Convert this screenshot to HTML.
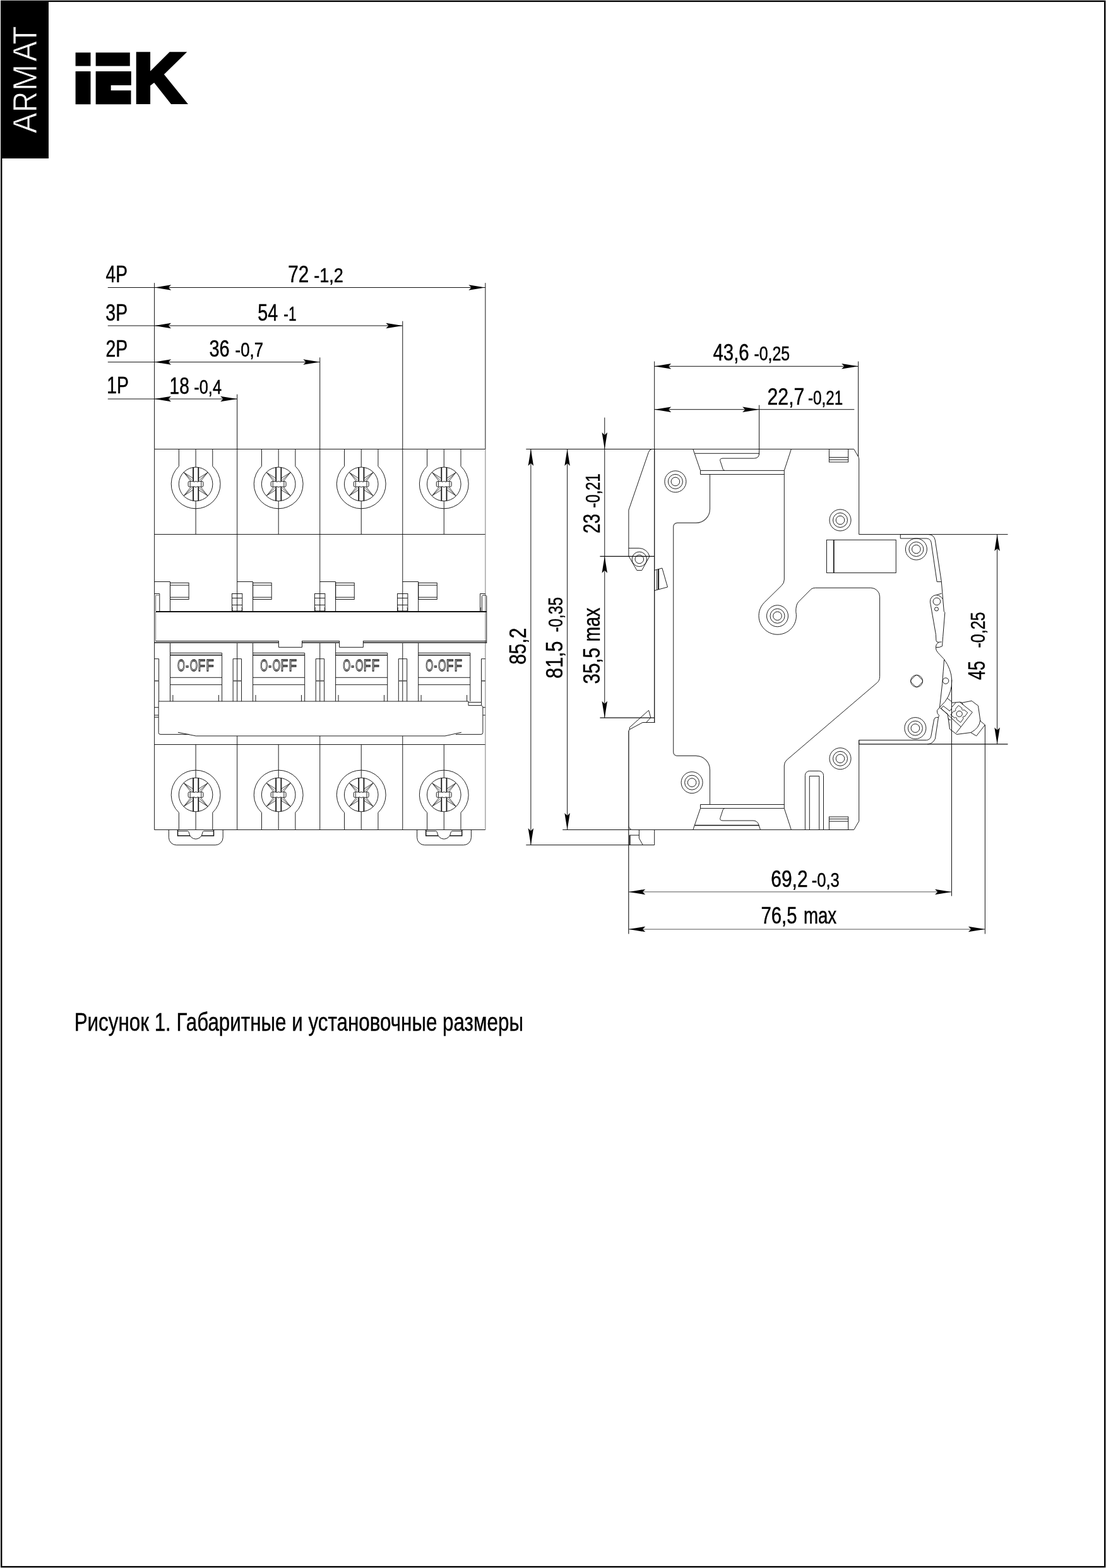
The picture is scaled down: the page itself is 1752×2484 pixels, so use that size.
<!DOCTYPE html>
<html lang="ru">
<head>
<meta charset="utf-8">
<title>Рисунок 1</title>
<style>
html,body{margin:0;padding:0;background:#fff;}
body{width:1752px;height:2484px;overflow:hidden;}
svg{display:block;will-change:transform;}
svg text{font-family:"Liberation Sans",sans-serif;}
svg .ar{fill:#000;stroke:none;}
</style>
</head>
<body>
<svg width="1752" height="2484" viewBox="0 0 1752 2484">
<g fill="none" stroke="#111" stroke-width="0.95">
<rect x="2.2" y="1.9" width="1748" height="2480.2" fill="#fff" stroke="#000" stroke-width="2.4"/>
<rect x="1" y="1" width="76" height="250" fill="#000" stroke="none"/>
<text transform="translate(58,210.8) rotate(-90)" font-size="52.91" fill="#fff" stroke="#000" stroke-width="0.8"><tspan x="-0.37" textLength="32.78" lengthAdjust="spacingAndGlyphs">A</tspan><tspan x="33.01" textLength="32.94" lengthAdjust="spacingAndGlyphs">R</tspan><tspan x="66.9" textLength="42.07" lengthAdjust="spacingAndGlyphs">M</tspan><tspan x="113.43" textLength="32.28" lengthAdjust="spacingAndGlyphs">A</tspan><tspan x="140.65" textLength="28.79" lengthAdjust="spacingAndGlyphs">T</tspan></text>
<text font-weight="bold" fill="#000" stroke="#000" stroke-linejoin="miter" stroke-miterlimit="10"><tspan x="118.08" y="159.65" font-size="104.3" stroke-width="10.5" textLength="27.14" lengthAdjust="spacingAndGlyphs">I</tspan><tspan x="150.34" y="159.65" font-size="104.3" stroke-width="10.5" textLength="56.35" lengthAdjust="spacingAndGlyphs">E</tspan><tspan x="211.36" y="161.9" font-size="110.6" stroke-width="6" textLength="81.45" lengthAdjust="spacingAndGlyphs">K</tspan></text>
<rect x="172" y="113" width="35.8" height="22.1" fill="#000" stroke="none"/>
<rect x="170" y="134" width="5.7" height="10" fill="#000" stroke="none"/>
<rect x="117" y="104.6" width="94.5" height="8.4" fill="#fff" stroke="none"/>
<line x1="170.8" y1="455.5" x2="768.88" y2="455.5" stroke-width="1"/>
<polygon class="ar" points="0,0 26.5,-4.25 22.2,0 26.5,4.25" transform="translate(244.6,455.5) rotate(0)"/>
<polygon class="ar" points="0,0 26.5,-4.25 22.2,0 26.5,4.25" transform="translate(768.88,455.5) rotate(180)"/>
<text transform="translate(167.59,446.85) scale(0.7558,1)" font-size="37.21" stroke="#000" stroke-width="0.5" fill="#000">4P</text>
<line x1="768.88" y1="448.2" x2="768.88" y2="711.5" stroke-width="1"/>
<line x1="170.8" y1="516" x2="637.81" y2="516" stroke-width="1"/>
<polygon class="ar" points="0,0 26.5,-4.25 22.2,0 26.5,4.25" transform="translate(244.6,516) rotate(0)"/>
<polygon class="ar" points="0,0 26.5,-4.25 22.2,0 26.5,4.25" transform="translate(637.81,516) rotate(180)"/>
<text transform="translate(167.33,507.55) scale(0.7641,1)" font-size="37.21" stroke="#000" stroke-width="0.5" fill="#000">3P</text>
<line x1="637.81" y1="508.7" x2="637.81" y2="711.5" stroke-width="1"/>
<line x1="170.8" y1="573.6" x2="506.74" y2="573.6" stroke-width="1"/>
<polygon class="ar" points="0,0 26.5,-4.25 22.2,0 26.5,4.25" transform="translate(244.6,573.6) rotate(0)"/>
<polygon class="ar" points="0,0 26.5,-4.25 22.2,0 26.5,4.25" transform="translate(506.74,573.6) rotate(180)"/>
<text transform="translate(167.43,564.75) scale(0.7641,1)" font-size="37.21" stroke="#000" stroke-width="0.5" fill="#000">2P</text>
<line x1="506.74" y1="566.3" x2="506.74" y2="711.5" stroke-width="1"/>
<line x1="170.8" y1="632" x2="375.67" y2="632" stroke-width="1"/>
<polygon class="ar" points="0,0 26.5,-4.25 22.2,0 26.5,4.25" transform="translate(244.6,632) rotate(0)"/>
<polygon class="ar" points="0,0 26.5,-4.25 22.2,0 26.5,4.25" transform="translate(375.67,632) rotate(180)"/>
<text transform="translate(169.26,623.25) scale(0.7632,1)" font-size="37.21" stroke="#000" stroke-width="0.5" fill="#000">1P</text>
<line x1="375.67" y1="624.7" x2="375.67" y2="711.5" stroke-width="1"/>
<line x1="244.6" y1="448.2" x2="244.6" y2="711.5" stroke-width="1"/>
<text y="447.35" fill="#000" stroke="#000" stroke-width="0.5"><tspan x="456.2" font-size="37.21" textLength="32.94" lengthAdjust="spacingAndGlyphs">72</tspan> <tspan x="497.15" font-size="31.25" textLength="46.63" lengthAdjust="spacingAndGlyphs">-1,2</tspan></text>
<text y="508.15" fill="#000" stroke="#000" stroke-width="0.5"><tspan x="408.32" font-size="37.21" textLength="32.02" lengthAdjust="spacingAndGlyphs">54</tspan> <tspan x="449.36" font-size="31.25" textLength="20.16" lengthAdjust="spacingAndGlyphs">-1</tspan></text>
<text y="565.35" fill="#000" stroke="#000" stroke-width="0.5"><tspan x="331.52" font-size="37.21" textLength="32.12" lengthAdjust="spacingAndGlyphs">36</tspan> <tspan x="372.58" font-size="31.25" textLength="44.45" lengthAdjust="spacingAndGlyphs">-0,7</tspan></text>
<text y="623.65" fill="#000" stroke="#000" stroke-width="0.5"><tspan x="268.58" font-size="37.21" textLength="31.25" lengthAdjust="spacingAndGlyphs">18</tspan> <tspan x="307.29" font-size="31.25" textLength="43.71" lengthAdjust="spacingAndGlyphs">-0,4</tspan></text>
<line x1="244.6" y1="711.5" x2="768.88" y2="711.5"/>
<line x1="244.6" y1="846.5" x2="768.88" y2="846.5"/>
<line x1="244.6" y1="1179.5" x2="768.88" y2="1179.5"/>
<line x1="244.6" y1="1314.5" x2="768.88" y2="1314.5"/>
<line x1="244.6" y1="711.5" x2="244.6" y2="1314.5"/>
<line x1="768.88" y1="711.5" x2="768.88" y2="1314.5" stroke-width="1" stroke="#777"/>
<line x1="246.6" y1="969" x2="246.6" y2="1016" stroke-width="1" stroke="#777"/>
<path d="M283.4,711.5 V738.6 A38.9,38.9 0 1 0 336.8,738.6 V711.5"/>
<line x1="310.1" y1="711.5" x2="310.1" y2="740.1"/>
<line x1="310.1" y1="793.7" x2="310.1" y2="846.5"/>
<circle cx="310.1" cy="766.9" r="26.8"/>
<line x1="306.1" y1="740.5" x2="306.1" y2="763.3" stroke-width="1.8"/>
<line x1="306.1" y1="770.5" x2="306.1" y2="793.3" stroke-width="1.8"/>
<line x1="314.3" y1="740.5" x2="314.3" y2="763.3" stroke-width="1.8"/>
<line x1="314.3" y1="770.5" x2="314.3" y2="793.3" stroke-width="1.8"/>
<path d="M305.1,762.6 H300.1 Q298.1,762.6 298.1,764.6 V769.2 Q298.1,771.2 300.1,771.2 H305.1"/>
<path d="M315.3,762.6 H320 Q322,762.6 322,764.6 V769.2 Q322,771.2 320,771.2 H315.3"/>
<line x1="301.2" y1="763" x2="301.2" y2="770.8" stroke-width="0.9"/>
<line x1="318.8" y1="763" x2="318.8" y2="770.8" stroke-width="0.9"/>
<path d="M306.9,763.5 Q310.2,761.3 313.5,763.5"/>
<path d="M306.9,770.5 Q310.2,773.1 313.5,770.5"/>
<line x1="291.4" y1="748.6" x2="305.3" y2="757.4" stroke-width="0.8"/>
<line x1="291.4" y1="748.6" x2="303.9" y2="760.5" stroke-width="0.8"/>
<line x1="291.4" y1="748.6" x2="302.1" y2="762.1" stroke-width="0.8"/>
<line x1="291.4" y1="785.2" x2="305.3" y2="776.4" stroke-width="0.8"/>
<line x1="291.4" y1="785.2" x2="303.9" y2="773.3" stroke-width="0.8"/>
<line x1="291.4" y1="785.2" x2="302.1" y2="771.7" stroke-width="0.8"/>
<line x1="328.8" y1="748.6" x2="314.9" y2="757.4" stroke-width="0.8"/>
<line x1="328.8" y1="748.6" x2="316.3" y2="760.5" stroke-width="0.8"/>
<line x1="328.8" y1="748.6" x2="318.1" y2="762.1" stroke-width="0.8"/>
<line x1="328.8" y1="785.2" x2="314.9" y2="776.4" stroke-width="0.8"/>
<line x1="328.8" y1="785.2" x2="316.3" y2="773.3" stroke-width="0.8"/>
<line x1="328.8" y1="785.2" x2="318.1" y2="771.7" stroke-width="0.8"/>
<path d="M283.4,1314.5 V1287.3 A38.9,38.9 0 1 1 336.8,1287.3 V1314.5"/>
<line x1="310.1" y1="1179.5" x2="310.1" y2="1232.2"/>
<line x1="310.1" y1="1285.8" x2="310.1" y2="1314.5"/>
<circle cx="310.1" cy="1259" r="26.8"/>
<line x1="306.1" y1="1232.6" x2="306.1" y2="1255.4" stroke-width="1.8"/>
<line x1="306.1" y1="1262.6" x2="306.1" y2="1285.4" stroke-width="1.8"/>
<line x1="314.3" y1="1232.6" x2="314.3" y2="1255.4" stroke-width="1.8"/>
<line x1="314.3" y1="1262.6" x2="314.3" y2="1285.4" stroke-width="1.8"/>
<path d="M305.1,1254.7 H300.1 Q298.1,1254.7 298.1,1256.7 V1261.3 Q298.1,1263.3 300.1,1263.3 H305.1"/>
<path d="M315.3,1254.7 H320 Q322,1254.7 322,1256.7 V1261.3 Q322,1263.3 320,1263.3 H315.3"/>
<line x1="301.2" y1="1255.1" x2="301.2" y2="1262.9" stroke-width="0.9"/>
<line x1="318.8" y1="1255.1" x2="318.8" y2="1262.9" stroke-width="0.9"/>
<path d="M306.9,1255.6 Q310.2,1253.4 313.5,1255.6"/>
<path d="M306.9,1262.6 Q310.2,1265.2 313.5,1262.6"/>
<line x1="291.4" y1="1240.7" x2="305.3" y2="1249.5" stroke-width="0.8"/>
<line x1="291.4" y1="1240.7" x2="303.9" y2="1252.6" stroke-width="0.8"/>
<line x1="291.4" y1="1240.7" x2="302.1" y2="1254.2" stroke-width="0.8"/>
<line x1="291.4" y1="1277.3" x2="305.3" y2="1268.5" stroke-width="0.8"/>
<line x1="291.4" y1="1277.3" x2="303.9" y2="1265.4" stroke-width="0.8"/>
<line x1="291.4" y1="1277.3" x2="302.1" y2="1263.8" stroke-width="0.8"/>
<line x1="328.8" y1="1240.7" x2="314.9" y2="1249.5" stroke-width="0.8"/>
<line x1="328.8" y1="1240.7" x2="316.3" y2="1252.6" stroke-width="0.8"/>
<line x1="328.8" y1="1240.7" x2="318.1" y2="1254.2" stroke-width="0.8"/>
<line x1="328.8" y1="1277.3" x2="314.9" y2="1268.5" stroke-width="0.8"/>
<line x1="328.8" y1="1277.3" x2="316.3" y2="1265.4" stroke-width="0.8"/>
<line x1="328.8" y1="1277.3" x2="318.1" y2="1263.8" stroke-width="0.8"/>
<path d="M244.6,921.5 L269.5,921.5 L269.5,968"/>
<rect x="269.5" y="923.4" width="29.6" height="26.1"/>
<line x1="269.5" y1="927.1" x2="299.1" y2="927.1"/>
<line x1="269.5" y1="946.2" x2="299.1" y2="946.2"/>
<line x1="269.5" y1="1019" x2="269.5" y2="1111"/>
<path d="M269.5,1034.5 L351.6,1034.5 L351.6,1111"/>
<line x1="269.5" y1="1037.7" x2="351.6" y2="1037.7" stroke-width="1.5"/>
<line x1="269.5" y1="1073.3" x2="351.6" y2="1073.3"/>
<line x1="269.5" y1="1084.7" x2="351.6" y2="1084.7"/>
<line x1="273.9" y1="1101" x2="273.9" y2="1111"/>
<line x1="346.4" y1="1101" x2="346.4" y2="1111"/>
<text y="1063.45" font-size="25.73" fill="none" stroke="#222" stroke-width="1.3"><tspan x="281.09" textLength="11.92" lengthAdjust="spacingAndGlyphs">O</tspan><tspan x="294.21" textLength="4.75" lengthAdjust="spacingAndGlyphs">-</tspan><tspan x="300.78" textLength="12.44" lengthAdjust="spacingAndGlyphs">O</tspan><tspan x="313.5" textLength="11.65" lengthAdjust="spacingAndGlyphs">F</tspan><tspan x="326.32" textLength="12.52" lengthAdjust="spacingAndGlyphs">F</tspan></text>
<line x1="375.67" y1="711.5" x2="375.67" y2="968"/>
<line x1="375.67" y1="1019" x2="375.67" y2="1111"/>
<line x1="375.67" y1="1166" x2="375.67" y2="1314.5"/>
<path d="M414.47,711.5 V738.6 A38.9,38.9 0 1 0 467.87,738.6 V711.5"/>
<line x1="441.17" y1="711.5" x2="441.17" y2="740.1"/>
<line x1="441.17" y1="793.7" x2="441.17" y2="846.5"/>
<circle cx="441.17" cy="766.9" r="26.8"/>
<line x1="437.17" y1="740.5" x2="437.17" y2="763.3" stroke-width="1.8"/>
<line x1="437.17" y1="770.5" x2="437.17" y2="793.3" stroke-width="1.8"/>
<line x1="445.37" y1="740.5" x2="445.37" y2="763.3" stroke-width="1.8"/>
<line x1="445.37" y1="770.5" x2="445.37" y2="793.3" stroke-width="1.8"/>
<path d="M436.17,762.6 H431.17 Q429.17,762.6 429.17,764.6 V769.2 Q429.17,771.2 431.17,771.2 H436.17"/>
<path d="M446.37,762.6 H451.07 Q453.07,762.6 453.07,764.6 V769.2 Q453.07,771.2 451.07,771.2 H446.37"/>
<line x1="432.27" y1="763" x2="432.27" y2="770.8" stroke-width="0.9"/>
<line x1="449.87" y1="763" x2="449.87" y2="770.8" stroke-width="0.9"/>
<path d="M437.97,763.5 Q441.27,761.3 444.57,763.5"/>
<path d="M437.97,770.5 Q441.27,773.1 444.57,770.5"/>
<line x1="422.47" y1="748.6" x2="436.37" y2="757.4" stroke-width="0.8"/>
<line x1="422.47" y1="748.6" x2="434.97" y2="760.5" stroke-width="0.8"/>
<line x1="422.47" y1="748.6" x2="433.17" y2="762.1" stroke-width="0.8"/>
<line x1="422.47" y1="785.2" x2="436.37" y2="776.4" stroke-width="0.8"/>
<line x1="422.47" y1="785.2" x2="434.97" y2="773.3" stroke-width="0.8"/>
<line x1="422.47" y1="785.2" x2="433.17" y2="771.7" stroke-width="0.8"/>
<line x1="459.87" y1="748.6" x2="445.97" y2="757.4" stroke-width="0.8"/>
<line x1="459.87" y1="748.6" x2="447.37" y2="760.5" stroke-width="0.8"/>
<line x1="459.87" y1="748.6" x2="449.17" y2="762.1" stroke-width="0.8"/>
<line x1="459.87" y1="785.2" x2="445.97" y2="776.4" stroke-width="0.8"/>
<line x1="459.87" y1="785.2" x2="447.37" y2="773.3" stroke-width="0.8"/>
<line x1="459.87" y1="785.2" x2="449.17" y2="771.7" stroke-width="0.8"/>
<path d="M414.47,1314.5 V1287.3 A38.9,38.9 0 1 1 467.87,1287.3 V1314.5"/>
<line x1="441.17" y1="1179.5" x2="441.17" y2="1232.2"/>
<line x1="441.17" y1="1285.8" x2="441.17" y2="1314.5"/>
<circle cx="441.17" cy="1259" r="26.8"/>
<line x1="437.17" y1="1232.6" x2="437.17" y2="1255.4" stroke-width="1.8"/>
<line x1="437.17" y1="1262.6" x2="437.17" y2="1285.4" stroke-width="1.8"/>
<line x1="445.37" y1="1232.6" x2="445.37" y2="1255.4" stroke-width="1.8"/>
<line x1="445.37" y1="1262.6" x2="445.37" y2="1285.4" stroke-width="1.8"/>
<path d="M436.17,1254.7 H431.17 Q429.17,1254.7 429.17,1256.7 V1261.3 Q429.17,1263.3 431.17,1263.3 H436.17"/>
<path d="M446.37,1254.7 H451.07 Q453.07,1254.7 453.07,1256.7 V1261.3 Q453.07,1263.3 451.07,1263.3 H446.37"/>
<line x1="432.27" y1="1255.1" x2="432.27" y2="1262.9" stroke-width="0.9"/>
<line x1="449.87" y1="1255.1" x2="449.87" y2="1262.9" stroke-width="0.9"/>
<path d="M437.97,1255.6 Q441.27,1253.4 444.57,1255.6"/>
<path d="M437.97,1262.6 Q441.27,1265.2 444.57,1262.6"/>
<line x1="422.47" y1="1240.7" x2="436.37" y2="1249.5" stroke-width="0.8"/>
<line x1="422.47" y1="1240.7" x2="434.97" y2="1252.6" stroke-width="0.8"/>
<line x1="422.47" y1="1240.7" x2="433.17" y2="1254.2" stroke-width="0.8"/>
<line x1="422.47" y1="1277.3" x2="436.37" y2="1268.5" stroke-width="0.8"/>
<line x1="422.47" y1="1277.3" x2="434.97" y2="1265.4" stroke-width="0.8"/>
<line x1="422.47" y1="1277.3" x2="433.17" y2="1263.8" stroke-width="0.8"/>
<line x1="459.87" y1="1240.7" x2="445.97" y2="1249.5" stroke-width="0.8"/>
<line x1="459.87" y1="1240.7" x2="447.37" y2="1252.6" stroke-width="0.8"/>
<line x1="459.87" y1="1240.7" x2="449.17" y2="1254.2" stroke-width="0.8"/>
<line x1="459.87" y1="1277.3" x2="445.97" y2="1268.5" stroke-width="0.8"/>
<line x1="459.87" y1="1277.3" x2="447.37" y2="1265.4" stroke-width="0.8"/>
<line x1="459.87" y1="1277.3" x2="449.17" y2="1263.8" stroke-width="0.8"/>
<path d="M375.67,921.5 L400.57,921.5 L400.57,968"/>
<rect x="400.57" y="923.4" width="29.6" height="26.1"/>
<line x1="400.57" y1="927.1" x2="430.17" y2="927.1"/>
<line x1="400.57" y1="946.2" x2="430.17" y2="946.2"/>
<line x1="400.57" y1="1019" x2="400.57" y2="1111"/>
<path d="M400.57,1034.5 L482.67,1034.5 L482.67,1111"/>
<line x1="400.57" y1="1037.7" x2="482.67" y2="1037.7" stroke-width="1.5"/>
<line x1="400.57" y1="1073.3" x2="482.67" y2="1073.3"/>
<line x1="400.57" y1="1084.7" x2="482.67" y2="1084.7"/>
<line x1="404.97" y1="1101" x2="404.97" y2="1111"/>
<line x1="477.47" y1="1101" x2="477.47" y2="1111"/>
<text y="1063.45" font-size="25.73" fill="none" stroke="#222" stroke-width="1.3"><tspan x="412.16" textLength="11.92" lengthAdjust="spacingAndGlyphs">O</tspan><tspan x="425.28" textLength="4.75" lengthAdjust="spacingAndGlyphs">-</tspan><tspan x="431.85" textLength="12.44" lengthAdjust="spacingAndGlyphs">O</tspan><tspan x="444.57" textLength="11.65" lengthAdjust="spacingAndGlyphs">F</tspan><tspan x="457.39" textLength="12.52" lengthAdjust="spacingAndGlyphs">F</tspan></text>
<line x1="506.74" y1="711.5" x2="506.74" y2="968"/>
<line x1="506.74" y1="1019" x2="506.74" y2="1111"/>
<line x1="506.74" y1="1166" x2="506.74" y2="1314.5"/>
<path d="M545.54,711.5 V738.6 A38.9,38.9 0 1 0 598.94,738.6 V711.5"/>
<line x1="572.24" y1="711.5" x2="572.24" y2="740.1"/>
<line x1="572.24" y1="793.7" x2="572.24" y2="846.5"/>
<circle cx="572.24" cy="766.9" r="26.8"/>
<line x1="568.24" y1="740.5" x2="568.24" y2="763.3" stroke-width="1.8"/>
<line x1="568.24" y1="770.5" x2="568.24" y2="793.3" stroke-width="1.8"/>
<line x1="576.44" y1="740.5" x2="576.44" y2="763.3" stroke-width="1.8"/>
<line x1="576.44" y1="770.5" x2="576.44" y2="793.3" stroke-width="1.8"/>
<path d="M567.24,762.6 H562.24 Q560.24,762.6 560.24,764.6 V769.2 Q560.24,771.2 562.24,771.2 H567.24"/>
<path d="M577.44,762.6 H582.14 Q584.14,762.6 584.14,764.6 V769.2 Q584.14,771.2 582.14,771.2 H577.44"/>
<line x1="563.34" y1="763" x2="563.34" y2="770.8" stroke-width="0.9"/>
<line x1="580.94" y1="763" x2="580.94" y2="770.8" stroke-width="0.9"/>
<path d="M569.04,763.5 Q572.34,761.3 575.64,763.5"/>
<path d="M569.04,770.5 Q572.34,773.1 575.64,770.5"/>
<line x1="553.54" y1="748.6" x2="567.44" y2="757.4" stroke-width="0.8"/>
<line x1="553.54" y1="748.6" x2="566.04" y2="760.5" stroke-width="0.8"/>
<line x1="553.54" y1="748.6" x2="564.24" y2="762.1" stroke-width="0.8"/>
<line x1="553.54" y1="785.2" x2="567.44" y2="776.4" stroke-width="0.8"/>
<line x1="553.54" y1="785.2" x2="566.04" y2="773.3" stroke-width="0.8"/>
<line x1="553.54" y1="785.2" x2="564.24" y2="771.7" stroke-width="0.8"/>
<line x1="590.94" y1="748.6" x2="577.04" y2="757.4" stroke-width="0.8"/>
<line x1="590.94" y1="748.6" x2="578.44" y2="760.5" stroke-width="0.8"/>
<line x1="590.94" y1="748.6" x2="580.24" y2="762.1" stroke-width="0.8"/>
<line x1="590.94" y1="785.2" x2="577.04" y2="776.4" stroke-width="0.8"/>
<line x1="590.94" y1="785.2" x2="578.44" y2="773.3" stroke-width="0.8"/>
<line x1="590.94" y1="785.2" x2="580.24" y2="771.7" stroke-width="0.8"/>
<path d="M545.54,1314.5 V1287.3 A38.9,38.9 0 1 1 598.94,1287.3 V1314.5"/>
<line x1="572.24" y1="1179.5" x2="572.24" y2="1232.2"/>
<line x1="572.24" y1="1285.8" x2="572.24" y2="1314.5"/>
<circle cx="572.24" cy="1259" r="26.8"/>
<line x1="568.24" y1="1232.6" x2="568.24" y2="1255.4" stroke-width="1.8"/>
<line x1="568.24" y1="1262.6" x2="568.24" y2="1285.4" stroke-width="1.8"/>
<line x1="576.44" y1="1232.6" x2="576.44" y2="1255.4" stroke-width="1.8"/>
<line x1="576.44" y1="1262.6" x2="576.44" y2="1285.4" stroke-width="1.8"/>
<path d="M567.24,1254.7 H562.24 Q560.24,1254.7 560.24,1256.7 V1261.3 Q560.24,1263.3 562.24,1263.3 H567.24"/>
<path d="M577.44,1254.7 H582.14 Q584.14,1254.7 584.14,1256.7 V1261.3 Q584.14,1263.3 582.14,1263.3 H577.44"/>
<line x1="563.34" y1="1255.1" x2="563.34" y2="1262.9" stroke-width="0.9"/>
<line x1="580.94" y1="1255.1" x2="580.94" y2="1262.9" stroke-width="0.9"/>
<path d="M569.04,1255.6 Q572.34,1253.4 575.64,1255.6"/>
<path d="M569.04,1262.6 Q572.34,1265.2 575.64,1262.6"/>
<line x1="553.54" y1="1240.7" x2="567.44" y2="1249.5" stroke-width="0.8"/>
<line x1="553.54" y1="1240.7" x2="566.04" y2="1252.6" stroke-width="0.8"/>
<line x1="553.54" y1="1240.7" x2="564.24" y2="1254.2" stroke-width="0.8"/>
<line x1="553.54" y1="1277.3" x2="567.44" y2="1268.5" stroke-width="0.8"/>
<line x1="553.54" y1="1277.3" x2="566.04" y2="1265.4" stroke-width="0.8"/>
<line x1="553.54" y1="1277.3" x2="564.24" y2="1263.8" stroke-width="0.8"/>
<line x1="590.94" y1="1240.7" x2="577.04" y2="1249.5" stroke-width="0.8"/>
<line x1="590.94" y1="1240.7" x2="578.44" y2="1252.6" stroke-width="0.8"/>
<line x1="590.94" y1="1240.7" x2="580.24" y2="1254.2" stroke-width="0.8"/>
<line x1="590.94" y1="1277.3" x2="577.04" y2="1268.5" stroke-width="0.8"/>
<line x1="590.94" y1="1277.3" x2="578.44" y2="1265.4" stroke-width="0.8"/>
<line x1="590.94" y1="1277.3" x2="580.24" y2="1263.8" stroke-width="0.8"/>
<path d="M506.74,921.5 L531.64,921.5 L531.64,968"/>
<rect x="531.64" y="923.4" width="29.6" height="26.1"/>
<line x1="531.64" y1="927.1" x2="561.24" y2="927.1"/>
<line x1="531.64" y1="946.2" x2="561.24" y2="946.2"/>
<line x1="531.64" y1="1019" x2="531.64" y2="1111"/>
<path d="M531.64,1034.5 L613.74,1034.5 L613.74,1111"/>
<line x1="531.64" y1="1037.7" x2="613.74" y2="1037.7" stroke-width="1.5"/>
<line x1="531.64" y1="1073.3" x2="613.74" y2="1073.3"/>
<line x1="531.64" y1="1084.7" x2="613.74" y2="1084.7"/>
<line x1="536.04" y1="1101" x2="536.04" y2="1111"/>
<line x1="608.54" y1="1101" x2="608.54" y2="1111"/>
<text y="1063.45" font-size="25.73" fill="none" stroke="#222" stroke-width="1.3"><tspan x="543.23" textLength="11.92" lengthAdjust="spacingAndGlyphs">O</tspan><tspan x="556.35" textLength="4.75" lengthAdjust="spacingAndGlyphs">-</tspan><tspan x="562.92" textLength="12.44" lengthAdjust="spacingAndGlyphs">O</tspan><tspan x="575.64" textLength="11.65" lengthAdjust="spacingAndGlyphs">F</tspan><tspan x="588.46" textLength="12.52" lengthAdjust="spacingAndGlyphs">F</tspan></text>
<line x1="637.81" y1="711.5" x2="637.81" y2="968"/>
<line x1="637.81" y1="1019" x2="637.81" y2="1111"/>
<line x1="637.81" y1="1166" x2="637.81" y2="1314.5"/>
<path d="M676.61,711.5 V738.6 A38.9,38.9 0 1 0 730.01,738.6 V711.5"/>
<line x1="703.31" y1="711.5" x2="703.31" y2="740.1"/>
<line x1="703.31" y1="793.7" x2="703.31" y2="846.5"/>
<circle cx="703.31" cy="766.9" r="26.8"/>
<line x1="699.31" y1="740.5" x2="699.31" y2="763.3" stroke-width="1.8"/>
<line x1="699.31" y1="770.5" x2="699.31" y2="793.3" stroke-width="1.8"/>
<line x1="707.51" y1="740.5" x2="707.51" y2="763.3" stroke-width="1.8"/>
<line x1="707.51" y1="770.5" x2="707.51" y2="793.3" stroke-width="1.8"/>
<path d="M698.31,762.6 H693.31 Q691.31,762.6 691.31,764.6 V769.2 Q691.31,771.2 693.31,771.2 H698.31"/>
<path d="M708.51,762.6 H713.21 Q715.21,762.6 715.21,764.6 V769.2 Q715.21,771.2 713.21,771.2 H708.51"/>
<line x1="694.41" y1="763" x2="694.41" y2="770.8" stroke-width="0.9"/>
<line x1="712.01" y1="763" x2="712.01" y2="770.8" stroke-width="0.9"/>
<path d="M700.11,763.5 Q703.41,761.3 706.71,763.5"/>
<path d="M700.11,770.5 Q703.41,773.1 706.71,770.5"/>
<line x1="684.61" y1="748.6" x2="698.51" y2="757.4" stroke-width="0.8"/>
<line x1="684.61" y1="748.6" x2="697.11" y2="760.5" stroke-width="0.8"/>
<line x1="684.61" y1="748.6" x2="695.31" y2="762.1" stroke-width="0.8"/>
<line x1="684.61" y1="785.2" x2="698.51" y2="776.4" stroke-width="0.8"/>
<line x1="684.61" y1="785.2" x2="697.11" y2="773.3" stroke-width="0.8"/>
<line x1="684.61" y1="785.2" x2="695.31" y2="771.7" stroke-width="0.8"/>
<line x1="722.01" y1="748.6" x2="708.11" y2="757.4" stroke-width="0.8"/>
<line x1="722.01" y1="748.6" x2="709.51" y2="760.5" stroke-width="0.8"/>
<line x1="722.01" y1="748.6" x2="711.31" y2="762.1" stroke-width="0.8"/>
<line x1="722.01" y1="785.2" x2="708.11" y2="776.4" stroke-width="0.8"/>
<line x1="722.01" y1="785.2" x2="709.51" y2="773.3" stroke-width="0.8"/>
<line x1="722.01" y1="785.2" x2="711.31" y2="771.7" stroke-width="0.8"/>
<path d="M676.61,1314.5 V1287.3 A38.9,38.9 0 1 1 730.01,1287.3 V1314.5"/>
<line x1="703.31" y1="1179.5" x2="703.31" y2="1232.2"/>
<line x1="703.31" y1="1285.8" x2="703.31" y2="1314.5"/>
<circle cx="703.31" cy="1259" r="26.8"/>
<line x1="699.31" y1="1232.6" x2="699.31" y2="1255.4" stroke-width="1.8"/>
<line x1="699.31" y1="1262.6" x2="699.31" y2="1285.4" stroke-width="1.8"/>
<line x1="707.51" y1="1232.6" x2="707.51" y2="1255.4" stroke-width="1.8"/>
<line x1="707.51" y1="1262.6" x2="707.51" y2="1285.4" stroke-width="1.8"/>
<path d="M698.31,1254.7 H693.31 Q691.31,1254.7 691.31,1256.7 V1261.3 Q691.31,1263.3 693.31,1263.3 H698.31"/>
<path d="M708.51,1254.7 H713.21 Q715.21,1254.7 715.21,1256.7 V1261.3 Q715.21,1263.3 713.21,1263.3 H708.51"/>
<line x1="694.41" y1="1255.1" x2="694.41" y2="1262.9" stroke-width="0.9"/>
<line x1="712.01" y1="1255.1" x2="712.01" y2="1262.9" stroke-width="0.9"/>
<path d="M700.11,1255.6 Q703.41,1253.4 706.71,1255.6"/>
<path d="M700.11,1262.6 Q703.41,1265.2 706.71,1262.6"/>
<line x1="684.61" y1="1240.7" x2="698.51" y2="1249.5" stroke-width="0.8"/>
<line x1="684.61" y1="1240.7" x2="697.11" y2="1252.6" stroke-width="0.8"/>
<line x1="684.61" y1="1240.7" x2="695.31" y2="1254.2" stroke-width="0.8"/>
<line x1="684.61" y1="1277.3" x2="698.51" y2="1268.5" stroke-width="0.8"/>
<line x1="684.61" y1="1277.3" x2="697.11" y2="1265.4" stroke-width="0.8"/>
<line x1="684.61" y1="1277.3" x2="695.31" y2="1263.8" stroke-width="0.8"/>
<line x1="722.01" y1="1240.7" x2="708.11" y2="1249.5" stroke-width="0.8"/>
<line x1="722.01" y1="1240.7" x2="709.51" y2="1252.6" stroke-width="0.8"/>
<line x1="722.01" y1="1240.7" x2="711.31" y2="1254.2" stroke-width="0.8"/>
<line x1="722.01" y1="1277.3" x2="708.11" y2="1268.5" stroke-width="0.8"/>
<line x1="722.01" y1="1277.3" x2="709.51" y2="1265.4" stroke-width="0.8"/>
<line x1="722.01" y1="1277.3" x2="711.31" y2="1263.8" stroke-width="0.8"/>
<path d="M637.81,921.5 L662.71,921.5 L662.71,968"/>
<rect x="662.71" y="923.4" width="29.6" height="26.1"/>
<line x1="662.71" y1="927.1" x2="692.31" y2="927.1"/>
<line x1="662.71" y1="946.2" x2="692.31" y2="946.2"/>
<line x1="662.71" y1="1019" x2="662.71" y2="1111"/>
<path d="M662.71,1034.5 L744.81,1034.5 L744.81,1111"/>
<line x1="662.71" y1="1037.7" x2="744.81" y2="1037.7" stroke-width="1.5"/>
<line x1="662.71" y1="1073.3" x2="744.81" y2="1073.3"/>
<line x1="662.71" y1="1084.7" x2="744.81" y2="1084.7"/>
<line x1="667.11" y1="1101" x2="667.11" y2="1111"/>
<line x1="739.61" y1="1101" x2="739.61" y2="1111"/>
<text y="1063.45" font-size="25.73" fill="none" stroke="#222" stroke-width="1.3"><tspan x="674.3" textLength="11.92" lengthAdjust="spacingAndGlyphs">O</tspan><tspan x="687.42" textLength="4.75" lengthAdjust="spacingAndGlyphs">-</tspan><tspan x="693.99" textLength="12.44" lengthAdjust="spacingAndGlyphs">O</tspan><tspan x="706.71" textLength="11.65" lengthAdjust="spacingAndGlyphs">F</tspan><tspan x="719.53" textLength="12.52" lengthAdjust="spacingAndGlyphs">F</tspan></text>
<rect x="367.47" y="940.5" width="16.3" height="27.5"/>
<line x1="367.47" y1="947.5" x2="383.77" y2="947.5"/>
<line x1="367.47" y1="958.4" x2="383.77" y2="958.4"/>
<path d="M368.47,962.5 q-1.5,2.5 0,5 M382.77,962.5 q1.5,2.5 0,5" stroke-width="0.9"/>
<path d="M369.17,1111 L369.17,1043.7 L382.57,1043.7 L382.57,1111"/>
<line x1="369.17" y1="1078.6" x2="382.57" y2="1078.6" stroke-width="1.8" stroke="#555"/>
<rect x="498.54" y="940.5" width="16.3" height="27.5"/>
<line x1="498.54" y1="947.5" x2="514.84" y2="947.5"/>
<line x1="498.54" y1="958.4" x2="514.84" y2="958.4"/>
<path d="M499.54,962.5 q-1.5,2.5 0,5 M513.84,962.5 q1.5,2.5 0,5" stroke-width="0.9"/>
<path d="M500.24,1111 L500.24,1043.7 L513.64,1043.7 L513.64,1111"/>
<line x1="500.24" y1="1078.6" x2="513.64" y2="1078.6" stroke-width="1.8" stroke="#555"/>
<rect x="629.61" y="940.5" width="16.3" height="27.5"/>
<line x1="629.61" y1="947.5" x2="645.91" y2="947.5"/>
<line x1="629.61" y1="958.4" x2="645.91" y2="958.4"/>
<path d="M630.61,962.5 q-1.5,2.5 0,5 M644.91,962.5 q1.5,2.5 0,5" stroke-width="0.9"/>
<path d="M631.31,1111 L631.31,1043.7 L644.71,1043.7 L644.71,1111"/>
<line x1="631.31" y1="1078.6" x2="644.71" y2="1078.6" stroke-width="1.8" stroke="#555"/>
<path d="M244.6,940.5 L252.8,940.5 L252.8,968"/>
<path d="M246.6,968 L246.6,943 L252.8,943" stroke-width="1" stroke="#666"/>
<path d="M244.6,1043.7 L251.6,1043.7 L251.6,1111"/>
<line x1="244.6" y1="1078.6" x2="251.6" y2="1078.6" stroke-width="1.8" stroke="#555"/>
<line x1="244.6" y1="1120.7" x2="251" y2="1120.7"/>
<line x1="244.6" y1="1133" x2="251" y2="1133"/>
<line x1="244.6" y1="1136.2" x2="251" y2="1136.2"/>
<path d="M768.88,940.5 L760.6,940.5 L760.6,968"/>
<path d="M763.4,968 L763.4,944.5 L764.9,943 L769.5,943 L770.8,944.5 L770.8,968"/>
<path d="M761.6,962.5 q-1.2,2.5 0,5" stroke-width="0.9"/>
<path d="M768.88,1043.7 L762.5,1043.7 L762.5,1112.5"/>
<line x1="762.5" y1="1078.6" x2="768.88" y2="1078.6" stroke-width="1.8" stroke="#555"/>
<path d="M764.9,1120.7 L768.88,1120.7"/>
<path d="M764.9,1133 L768.88,1133"/>
<path d="M246.8,969 L770.8,969" stroke-width="1.9"/>
<line x1="246.8" y1="1015.6" x2="441.4" y2="1015.6" stroke-width="1"/>
<line x1="244.6" y1="1018.1" x2="441.4" y2="1018.1" stroke-width="1.5"/>
<line x1="478.5" y1="1015.6" x2="537.6" y2="1015.6" stroke-width="1"/>
<line x1="478.5" y1="1018.1" x2="537.6" y2="1018.1" stroke-width="1.5"/>
<line x1="575.4" y1="1015.6" x2="770.8" y2="1015.6" stroke-width="1"/>
<line x1="575.4" y1="1018.1" x2="770.8" y2="1018.1" stroke-width="1.5"/>
<path d="M441.4,1015.1 L441.4,1025.4 L478.5,1025.4 L478.5,1015.1"/>
<path d="M537.6,1015.1 L537.6,1025.4 L575.4,1025.4 L575.4,1015.1"/>
<line x1="770.8" y1="968" x2="770.8" y2="1019"/>
<path d="M251.2,1111 H742 V1117.6 H762.5 M742,1112.5 H762.5 V1117.6 L764.9,1119.5 V1160.5 Q764.9,1163.4 762,1163.4 H722 M730.9,1160.2 L705,1165.9 H310.3 L281.9,1160.2 M300,1163.4 H254 Q251.2,1163.4 251.2,1160.5 V1111"/>
<path d="M267.4,1314.5 V1326.7 A12,12 0 0 0 279.4,1338.7 H341.2 A12,12 0 0 0 353.2,1326.7 V1314.5"/>
<path d="M281.5,1314.5 V1324.1 H301.1 M319.1,1324.1 H338.5 V1314.5" stroke-width="1.5"/>
<path d="M281.5,1316.6 H297.6 Q299.2,1317 299.6,1320 A10.6,10.6 0 0 0 320.6,1320 Q321,1317 322.6,1316.6 H338.5"/>
<path d="M660.61,1314.5 V1326.7 A12,12 0 0 0 672.61,1338.7 H734.41 A12,12 0 0 0 746.41,1326.7 V1314.5"/>
<path d="M674.71,1314.5 V1324.1 H694.31 M712.31,1324.1 H731.71 V1314.5" stroke-width="1.5"/>
<path d="M674.71,1316.6 H690.81 Q692.41,1317 692.81,1320 A10.6,10.6 0 0 0 713.81,1320 Q714.21,1317 715.81,1316.6 H731.71"/>
<line x1="1036.7" y1="572.5" x2="1036.7" y2="711.5" stroke-width="1"/>
<line x1="1359.6" y1="572.5" x2="1359.6" y2="723.4" stroke-width="1"/>
<line x1="1036.7" y1="580.3" x2="1359.6" y2="580.3" stroke-width="1"/>
<polygon class="ar" points="0,0 26.5,-4.25 22.2,0 26.5,4.25" transform="translate(1036.7,580.3) rotate(0)"/>
<polygon class="ar" points="0,0 26.5,-4.25 22.2,0 26.5,4.25" transform="translate(1359.6,580.3) rotate(180)"/>
<text y="571.45" fill="#000" stroke="#000" stroke-width="0.5"><tspan x="1129.5" font-size="37.21" textLength="57.15" lengthAdjust="spacingAndGlyphs">43,6</tspan> <tspan x="1194.5" font-size="31.25" textLength="56.7" lengthAdjust="spacingAndGlyphs">-0,25</tspan></text>
<line x1="1036.7" y1="648.7" x2="1353.3" y2="648.7" stroke-width="1"/>
<polygon class="ar" points="0,0 26.5,-4.25 22.2,0 26.5,4.25" transform="translate(1036.7,648.7) rotate(0)"/>
<polygon class="ar" points="0,0 26.5,-4.25 22.2,0 26.5,4.25" transform="translate(1202.6,648.7) rotate(180)"/>
<line x1="1202.6" y1="641.7" x2="1202.6" y2="720" stroke-width="1"/>
<text y="640.55" fill="#000" stroke="#000" stroke-width="0.5"><tspan x="1215.59" font-size="37.21" textLength="58.78" lengthAdjust="spacingAndGlyphs">22,7</tspan> <tspan x="1280.02" font-size="31.25" textLength="55.26" lengthAdjust="spacingAndGlyphs">-0,21</tspan></text>
<line x1="833.3" y1="711.5" x2="1036.7" y2="711.5" stroke-width="1.2"/>
<line x1="833.3" y1="1338.6" x2="1036.7" y2="1338.6" stroke-width="1"/>
<line x1="840.9" y1="711.5" x2="840.9" y2="1338.6" stroke-width="1"/>
<polygon class="ar" points="0,0 26.5,-4.25 22.2,0 26.5,4.25" transform="translate(840.9,711.5) rotate(90)"/>
<polygon class="ar" points="0,0 26.5,-4.25 22.2,0 26.5,4.25" transform="translate(840.9,1338.6) rotate(-90)"/>
<text transform="translate(832.75,1052.7) rotate(-90) scale(0.8004,1)" font-size="37.21" stroke="#000" stroke-width="0.5" fill="#000">85,2</text>
<line x1="891.2" y1="1314.5" x2="996" y2="1314.5" stroke-width="1"/>
<line x1="898.6" y1="711.5" x2="898.6" y2="1314.5" stroke-width="1"/>
<polygon class="ar" points="0,0 26.5,-4.25 22.2,0 26.5,4.25" transform="translate(898.6,711.5) rotate(90)"/>
<polygon class="ar" points="0,0 26.5,-4.25 22.2,0 26.5,4.25" transform="translate(898.6,1314.5) rotate(-90)"/>
<text transform="translate(891.05,1074.1) rotate(-90)" fill="#000" stroke="#000" stroke-width="0.5"><tspan x="-0.61" font-size="37.21" textLength="59.17" lengthAdjust="spacingAndGlyphs">81,5</tspan> <tspan x="72.51" font-size="31.25" textLength="55.59" lengthAdjust="spacingAndGlyphs">-0,35</tspan></text>
<line x1="957.8" y1="661.5" x2="957.8" y2="1137.2" stroke-width="1"/>
<polygon class="ar" points="0,0 26.5,-4.25 22.2,0 26.5,4.25" transform="translate(957.8,711.5) rotate(-90)"/>
<polygon class="ar" points="0,0 26.5,-4.25 22.2,0 26.5,4.25" transform="translate(957.8,881.3) rotate(90)"/>
<polygon class="ar" points="0,0 26.5,-4.25 22.2,0 26.5,4.25" transform="translate(957.8,1137.2) rotate(-90)"/>
<line x1="950.4" y1="881.3" x2="1036.7" y2="881.3" stroke-width="1.3"/>
<line x1="950.4" y1="1137.2" x2="1036.7" y2="1137.2" stroke-width="1.3"/>
<text transform="translate(949.55,844.5) rotate(-90)" fill="#000" stroke="#000" stroke-width="0.5"><tspan x="-0.56" font-size="37.21" textLength="31.09" lengthAdjust="spacingAndGlyphs">23</tspan> <tspan x="39.93" font-size="31.25" textLength="54.44" lengthAdjust="spacingAndGlyphs">-0,21</tspan></text>
<text transform="translate(949.85,1083) rotate(-90)" fill="#000" stroke="#000" stroke-width="0.5"><tspan x="-0.6" font-size="37.21" textLength="57.65" lengthAdjust="spacingAndGlyphs">35,5</tspan> <tspan x="66.56" font-size="37.21" textLength="53.64" lengthAdjust="spacingAndGlyphs">max</tspan></text>
<line x1="1360.7" y1="846.6" x2="1596.5" y2="846.6" stroke-width="1"/>
<line x1="1360.5" y1="1178.9" x2="1596.5" y2="1178.9" stroke-width="1.2"/>
<line x1="1579.6" y1="846.6" x2="1579.6" y2="1178.9" stroke-width="1"/>
<polygon class="ar" points="0,0 26.5,-4.25 22.2,0 26.5,4.25" transform="translate(1579.6,846.6) rotate(90)"/>
<polygon class="ar" points="0,0 26.5,-4.25 22.2,0 26.5,4.25" transform="translate(1579.6,1178.9) rotate(-90)"/>
<text transform="translate(1559.65,1077.2) rotate(-90)" fill="#000" stroke="#000" stroke-width="0.5"><tspan x="0.18" font-size="37.21" textLength="29.84" lengthAdjust="spacingAndGlyphs">45</tspan> <tspan x="50.6" font-size="31.25" textLength="57.11" lengthAdjust="spacingAndGlyphs">-0,25</tspan></text>
<line x1="995.8" y1="1158" x2="995.8" y2="1479.6" stroke-width="1.2" stroke="#222"/>
<line x1="1507.5" y1="1077" x2="1507.5" y2="1419.5" stroke-width="1"/>
<line x1="1560.4" y1="1148.3" x2="1560.4" y2="1479.5" stroke-width="1"/>
<line x1="995.8" y1="1412.9" x2="1507.5" y2="1412.9" stroke-width="1" stroke="#555"/>
<polygon class="ar" points="0,0 26.5,-4.25 22.2,0 26.5,4.25" transform="translate(995.8,1412.9) rotate(0)"/>
<polygon class="ar" points="0,0 26.5,-4.25 22.2,0 26.5,4.25" transform="translate(1507.5,1412.9) rotate(180)"/>
<line x1="995.8" y1="1472.1" x2="1560.4" y2="1472.1" stroke-width="1" stroke="#555"/>
<polygon class="ar" points="0,0 26.5,-4.25 22.2,0 26.5,4.25" transform="translate(995.8,1472.1) rotate(0)"/>
<polygon class="ar" points="0,0 26.5,-4.25 22.2,0 26.5,4.25" transform="translate(1560.4,1472.1) rotate(180)"/>
<text y="1404.55" fill="#000" stroke="#000" stroke-width="0.5"><tspan x="1221.3" font-size="37.21" textLength="58.26" lengthAdjust="spacingAndGlyphs">69,2</tspan> <tspan x="1285.69" font-size="31.25" textLength="44.14" lengthAdjust="spacingAndGlyphs">-0,3</tspan></text>
<text y="1463.15" fill="#000" stroke="#000" stroke-width="0.5"><tspan x="1205.51" font-size="37.21" textLength="57.04" lengthAdjust="spacingAndGlyphs">76,5</tspan> <tspan x="1272.9" font-size="37.21" textLength="52.32" lengthAdjust="spacingAndGlyphs">max</tspan></text>
<line x1="1036.7" y1="711.5" x2="1036.7" y2="1144.5" stroke-width="1.3"/>
<path d="M1036.7,711.5 H1352.7 L1359.6,723.4 Q1360.7,725 1360.7,728 V846.6"/>
<path d="M996,1314.5 H1352.7 L1360.7,1300.8 V1172.5 H1467.3"/>
<line x1="1360.7" y1="1172.5" x2="1360.7" y2="1179" stroke-width="1"/>
<path d="M1036.7,711.5 H1032.5 Q1028.8,712 1027.4,716.4 L995.9,808 V881.3"/>
<path d="M995.9,868.4 H1012.2 A17.2,17.2 0 0 1 1028.9,881.3"/>
<circle cx="1012.8" cy="885.9" r="11.7"/>
<circle cx="1012.8" cy="885.9" r="6.8"/>
<path d="M996.1,881.4 L1008.9,903.6 L1016.7,903.6 L1028.9,881.4"/>
<path d="M1036.7,903.4 L1048.9,900 L1057.5,930 L1036.7,935.6"/>
<line x1="1040.6" y1="902.6" x2="1040.6" y2="934.6" stroke-width="0.9"/>
<line x1="1043.1" y1="901.8" x2="1043.1" y2="934" stroke-width="1.9"/>
<path d="M997.3,1152.4 L1027.6,1125.3 L1030.8,1136.8 L1023.7,1144.5"/>
<path d="M1037.5,1144.5 L1018,1144.5 L997.3,1155.6 L997.3,1152.4"/>
<path d="M997.3,1155.6 Q995.8,1157 995.8,1159.5 V1307.5 Q996.3,1313.5 1001,1314.5" stroke-width="1.3" stroke="#555"/>
<path d="M1036.7,1314.5 L1036.7,1338.6"/>
<path d="M1012.4,1314.5 L1012.4,1328 L1018.3,1338.6"/>
<line x1="997.3" y1="1323.1" x2="1012.4" y2="1323.1"/>
<line x1="997.6" y1="1323.1" x2="997.6" y2="1338.6" stroke-width="1.9"/>
<path d="M1124.5,751.5 V806.4 A22,22 0 0 1 1102.5,828.4 H1072.7 A6,6 0 0 0 1066.7,834.4 V1191.4 A6,6 0 0 0 1072.7,1197.4 H1102.5 A22,22 0 0 1 1124.5,1219.4 V1274.5" stroke-width="1.2" stroke="#444"/>
<path d="M1242.3,745.4 V918 Q1242.3,923.6 1238.3,927.4 L1210.4,954.8 A29.7,29.7 0 1 0 1260.8,969.5 Q1260.3,958.5 1265,953.3 L1284.6,933.6 Q1287,931.3 1291.5,931.3 H1379.6 A14,14 0 0 1 1393.6,945.3 V1071.5 Q1393.6,1078 1389.5,1081.5 L1246.2,1204 Q1242.3,1207.6 1242.3,1213 V1280.6"/>
<path d="M1097.8,711.5 L1109.5,745.4 L1109.5,751.5 L1242.3,751.5"/>
<line x1="1109.5" y1="745.4" x2="1242.3" y2="745.4"/>
<line x1="1253.4" y1="711.5" x2="1242.3" y2="745.4"/>
<line x1="1100.3" y1="718.3" x2="1202.6" y2="718.3"/>
<path d="M1202.6,718 Q1202.6,726.1 1194.5,726.1 H1145 Q1139.5,726.1 1141,730.5 L1145.3,743.5 Q1146,745.4 1148,745.4"/>
<path d="M1097.8,1314.5 L1109.5,1280.6 L1109.5,1274.5 L1242.3,1274.5"/>
<line x1="1109.5" y1="1280.6" x2="1242.3" y2="1280.6"/>
<line x1="1253.4" y1="1314.5" x2="1242.3" y2="1280.6"/>
<line x1="1100.3" y1="1307.5" x2="1202.3" y2="1307.5" stroke-width="1.5"/>
<path d="M1148,1280.6 Q1146,1280.6 1145.3,1282.5 L1141,1295.5 Q1139.5,1300 1145,1300 H1193 Q1199.5,1300 1201.7,1306.1 L1204.5,1314.5"/>
<rect x="1313.4" y="711.5" width="30.3" height="20.5"/>
<line x1="1313.4" y1="724.6" x2="1343.7" y2="724.6"/>
<line x1="1313.4" y1="728.3" x2="1343.7" y2="728.3"/>
<rect x="1313.4" y="1294" width="30.3" height="20.5"/>
<line x1="1313.4" y1="1297.4" x2="1343.7" y2="1297.4"/>
<line x1="1313.4" y1="1301.1" x2="1343.7" y2="1301.1"/>
<path d="M1275.4,1314.5 V1228.4 A7,7 0 0 1 1282.4,1221.4 H1297.5 A7,7 0 0 1 1304.5,1228.4 V1314.5"/>
<path d="M1282.3,1314.5 L1282.3,1229.5 L1297.7,1229.5 L1297.7,1314.5"/>
<rect x="1309.5" y="855.3" width="109.8" height="52.1"/>
<line x1="1320.8" y1="855.3" x2="1320.8" y2="907.4" stroke-width="1.7"/>
<circle cx="1069.9" cy="762.9" r="17"/>
<circle cx="1069.9" cy="762.9" r="11.5"/>
<circle cx="1069.9" cy="762.9" r="6.8"/>
<circle cx="1331" cy="824" r="17"/>
<circle cx="1331" cy="824" r="11.5"/>
<circle cx="1331" cy="824" r="6.8"/>
<circle cx="1231.5" cy="975.8" r="17"/>
<circle cx="1231.5" cy="975.8" r="11.5"/>
<circle cx="1231.5" cy="975.8" r="6.8"/>
<circle cx="1451.4" cy="870" r="17"/>
<circle cx="1451.4" cy="870" r="11.5"/>
<circle cx="1451.4" cy="870" r="6.8"/>
<circle cx="1096.1" cy="1239.7" r="17"/>
<circle cx="1096.1" cy="1239.7" r="11.5"/>
<circle cx="1096.1" cy="1239.7" r="6.8"/>
<circle cx="1331" cy="1201.8" r="17"/>
<circle cx="1331" cy="1201.8" r="11.5"/>
<circle cx="1331" cy="1201.8" r="6.8"/>
<circle cx="1449.9" cy="1153.6" r="17"/>
<circle cx="1449.9" cy="1153.6" r="11.5"/>
<circle cx="1449.9" cy="1153.6" r="6.8"/>
<circle cx="1452.1" cy="1078.9" r="9.5" stroke-width="0.9"/>
<rect x="-7.6" y="-7.6" width="15.2" height="15.2" rx="3.2" transform="translate(1452.1,1078.9) rotate(45)" stroke-width="0.9"/>
<path d="M1426.3,846.6 H1471 Q1479.3,847 1481.3,855.5 L1491.3,921.4 L1495.3,968.6 L1496.8,970.4 L1493.7,1008.5 L1492.5,1023.7"/>
<path d="M1426.3,846.6 V853 H1468 Q1473.8,853.4 1475.1,859.2 L1484.2,921.6 H1491.3"/>
<path d="M1491.6,940.1 L1483.2,942.6 A10.2,10.2 0 0 0 1473.4,953.4 L1482.5,1005.4 L1482.9,1014.5 Q1483.3,1017.3 1486,1017.4 L1491.5,1016.9"/>
<path d="M1483.2,942.6 Q1490,943.4 1493.1,948.8"/>
<circle cx="1483.9" cy="952.8" r="5.8"/>
<circle cx="1483.5" cy="964.9" r="3"/>
<path d="M1492.5,1023.7 Q1488.5,1026 1483,1025.6 M1487,1017.6 Q1482,1020.5 1482.4,1025.2"/>
<path d="M1482.4,1025.2 Q1482.2,1030.3 1485.6,1033.8 L1495.6,1044.4 Q1507,1060 1507.8,1078 Q1508,1097 1497,1111.5 L1488.6,1120.5"/>
<path d="M1495.6,1045 Q1494.2,1063 1492.6,1083.7 L1488.5,1120.3"/>
<circle cx="1498.1" cy="1078.6" r="4.7"/>
<path d="M1488.5,1120.5 L1484.4,1125.6 L1485,1130.2 L1487.6,1133.4 L1486.5,1136.5 L1482.2,1165 A13.2,13.2 0 0 1 1469.3,1178.9"/>
<path d="M1486.5,1136.5 H1483.5 Q1480.2,1136.8 1479.6,1140 L1474.8,1166.5 A7.5,7.5 0 0 1 1467.3,1172.5"/>
<path d="M1500.6,1106.1 L1507.6,1111.7 M1507.6,1113.3 L1520.3,1112.2 L1524.5,1113.1 L1539.2,1110.3 L1549.5,1118.1 L1552.8,1141.1 L1553.4,1142.5 L1560.3,1148.4 L1546.7,1165.9 L1537.8,1160.5 L1515.6,1163.4 L1504.5,1155 L1502.2,1138.9 L1501.1,1131.1 L1488.3,1120.8"/>
<path d="M1552.8,1141.1 Q1551.5,1153.5 1537.8,1160.5"/>
<path d="M1520.3,1112.2 L1540.3,1128.3 L1514.7,1161.1"/>
<path d="M1490.6,1122.2 L1522.2,1151.4"/>
<path d="M1514,1113.2 L1507.6,1120.4"/>
<path d="M1523.8,1113.2 L1525.5,1116.3"/>
<path d="M1518.4,1117.5 L1524.11,1122.02 A1.9,1.9 0 0 0 1527.09,1124.38 L1532.8,1128.9 L1528.35,1135.15 A1.9,1.9 0 0 0 1526.15,1138.25 L1521.7,1144.5 L1515.27,1139.64 A1.9,1.9 0 0 0 1512.23,1137.36 L1505.8,1132.5 L1510.88,1126.45 A1.9,1.9 0 0 0 1513.32,1123.55 L1518.4,1117.5 Z" stroke-width="0.9"/>
<circle cx="1519.7" cy="1130.9" r="4.6"/>
<path d="M1491.1,1122 L1494.2,1118.3 L1504.5,1126.4 L1507.6,1122.2"/>
<path d="M1502.2,1137.8 L1503.9,1140.6 L1506.1,1140"/>
<text transform="translate(117.66,1632.88) scale(0.7723,1)" font-size="40.62" stroke="#000" stroke-width="0.45" fill="#000">Рисунок 1. Габаритные и установочные размеры</text>
</g>
</svg>
</body>
</html>
